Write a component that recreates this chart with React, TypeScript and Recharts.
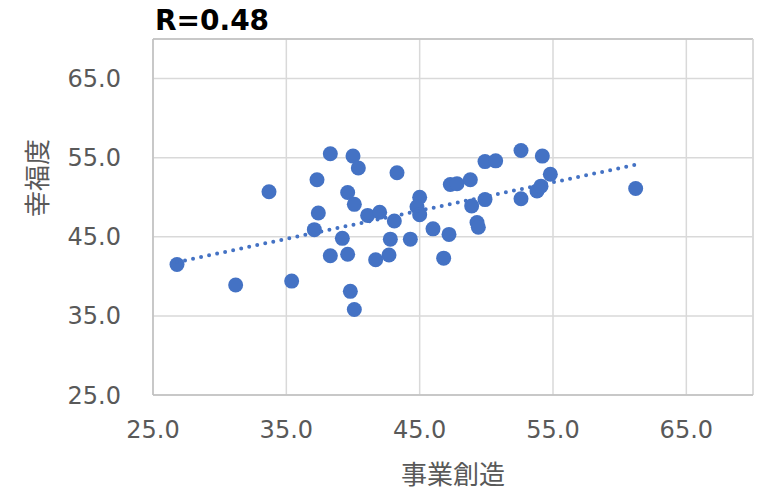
import { ScatterChart, Scatter, XAxis, YAxis, CartesianGrid, ReferenceLine } from "recharts";

// 事業創造 (x) と 幸福度 (y)
const jigyouSouzou = [
  26.8, 31.2, 33.7, 35.4, 37.3, 37.4, 37.1, 38.3, 38.3, 40.0, 40.4, 39.6, 40.1, 39.2, 39.6, 39.8,
  40.1, 41.1, 42.0, 41.7, 42.7, 42.8, 43.1, 43.3, 44.3, 45.0, 44.8, 45.0, 46.0, 47.2, 46.8, 47.3,
  47.8, 48.8, 48.9, 49.3, 49.4, 49.9, 50.7, 49.9, 52.6, 52.6, 54.2, 54.8, 53.8, 54.1, 61.2,
];
const koufukudo = [
  41.5, 38.9, 50.7, 39.4, 52.2, 48.0, 45.9, 55.5, 42.6, 55.2, 53.7, 50.6, 49.1, 44.8, 42.8, 38.1,
  35.8, 47.7, 48.1, 42.1, 42.7, 44.7, 47.0, 53.1, 44.7, 50.0, 48.8, 47.8, 46.0, 45.3, 42.3, 51.6,
  51.7, 52.2, 48.9, 46.8, 46.2, 54.5, 54.6, 49.7, 55.9, 49.8, 55.2, 52.9, 50.8, 51.4, 51.1,
];
// 近似直線の端点
const trendX = [26.8, 61.2];
const trendY = [41.8, 54.1];

const axisTicks = [25, 35, 45, 55, 65];

const points = jigyouSouzou.map((x, i) => ({ x, y: koufukudo[i] }));
const trend = trendX.map((x, i) => ({ x, y: trendY[i] }));

const BLUE = "#4472C4";
const tickStyle = { fill: "#595959", fontSize: 24, fontFamily: "DejaVu Sans" };
const titleFont = "'Noto Sans CJK JP', sans-serif";

export default function App() {
  return (
    <div style={{ position: "absolute", left: 0, top: 0, width: 769, height: 497, background: "#fff" }}>
      <div
        style={{
          position: "absolute", left: 155, top: 4, fontFamily: "DejaVu Sans", fontWeight: "bold",
          fontSize: 28, lineHeight: "34px", color: "#000",
        }}
      >
        R=0.48
      </div>
      <ScatterChart width={769} height={497} margin={{ top: 39, right: 16, bottom: 0, left: 0 }}>
        <CartesianGrid stroke="#d9d9d9" strokeWidth={1.5} />
        <XAxis
          type="number" dataKey="x" domain={[25, 70]} ticks={axisTicks} height={102}
          tickFormatter={(v: number) => v.toFixed(1)} tick={tickStyle} tickSize={0} tickMargin={26}
          axisLine={{ stroke: "#bfbfbf", strokeWidth: 1.5 }} tickLine={false}
          label={{ value: "事業創造", position: "insideBottom", offset: 13, fill: "#595959", fontSize: 26, fontFamily: titleFont }}
        />
        <YAxis
          type="number" dataKey="y" domain={[25, 70]} ticks={axisTicks} width={153}
          tickFormatter={(v: number) => v.toFixed(1)} tick={tickStyle} tickSize={0} tickMargin={32}
          axisLine={{ stroke: "#bfbfbf", strokeWidth: 1.5 }} tickLine={false}
          label={{ value: "幸福度", angle: -90, position: "insideLeft", offset: 38, fill: "#595959", fontSize: 26, fontFamily: titleFont }}
        />
        <ReferenceLine y={70} stroke="#bfbfbf" strokeWidth={1.5} />
        <ReferenceLine x={70} stroke="#d9d9d9" strokeWidth={1.5} />
        <Scatter
          data={points} isAnimationActive={false}
          shape={(p: any) => <circle cx={p.cx} cy={p.cy} r={7.5} fill={BLUE} />}
        />
        <Scatter
          data={trend} isAnimationActive={false}
          line={{ stroke: BLUE, strokeWidth: 4, strokeDasharray: "0 8.2", strokeLinecap: "round" }}
          shape={() => <g />}
        />
      </ScatterChart>
    </div>
  );
}
